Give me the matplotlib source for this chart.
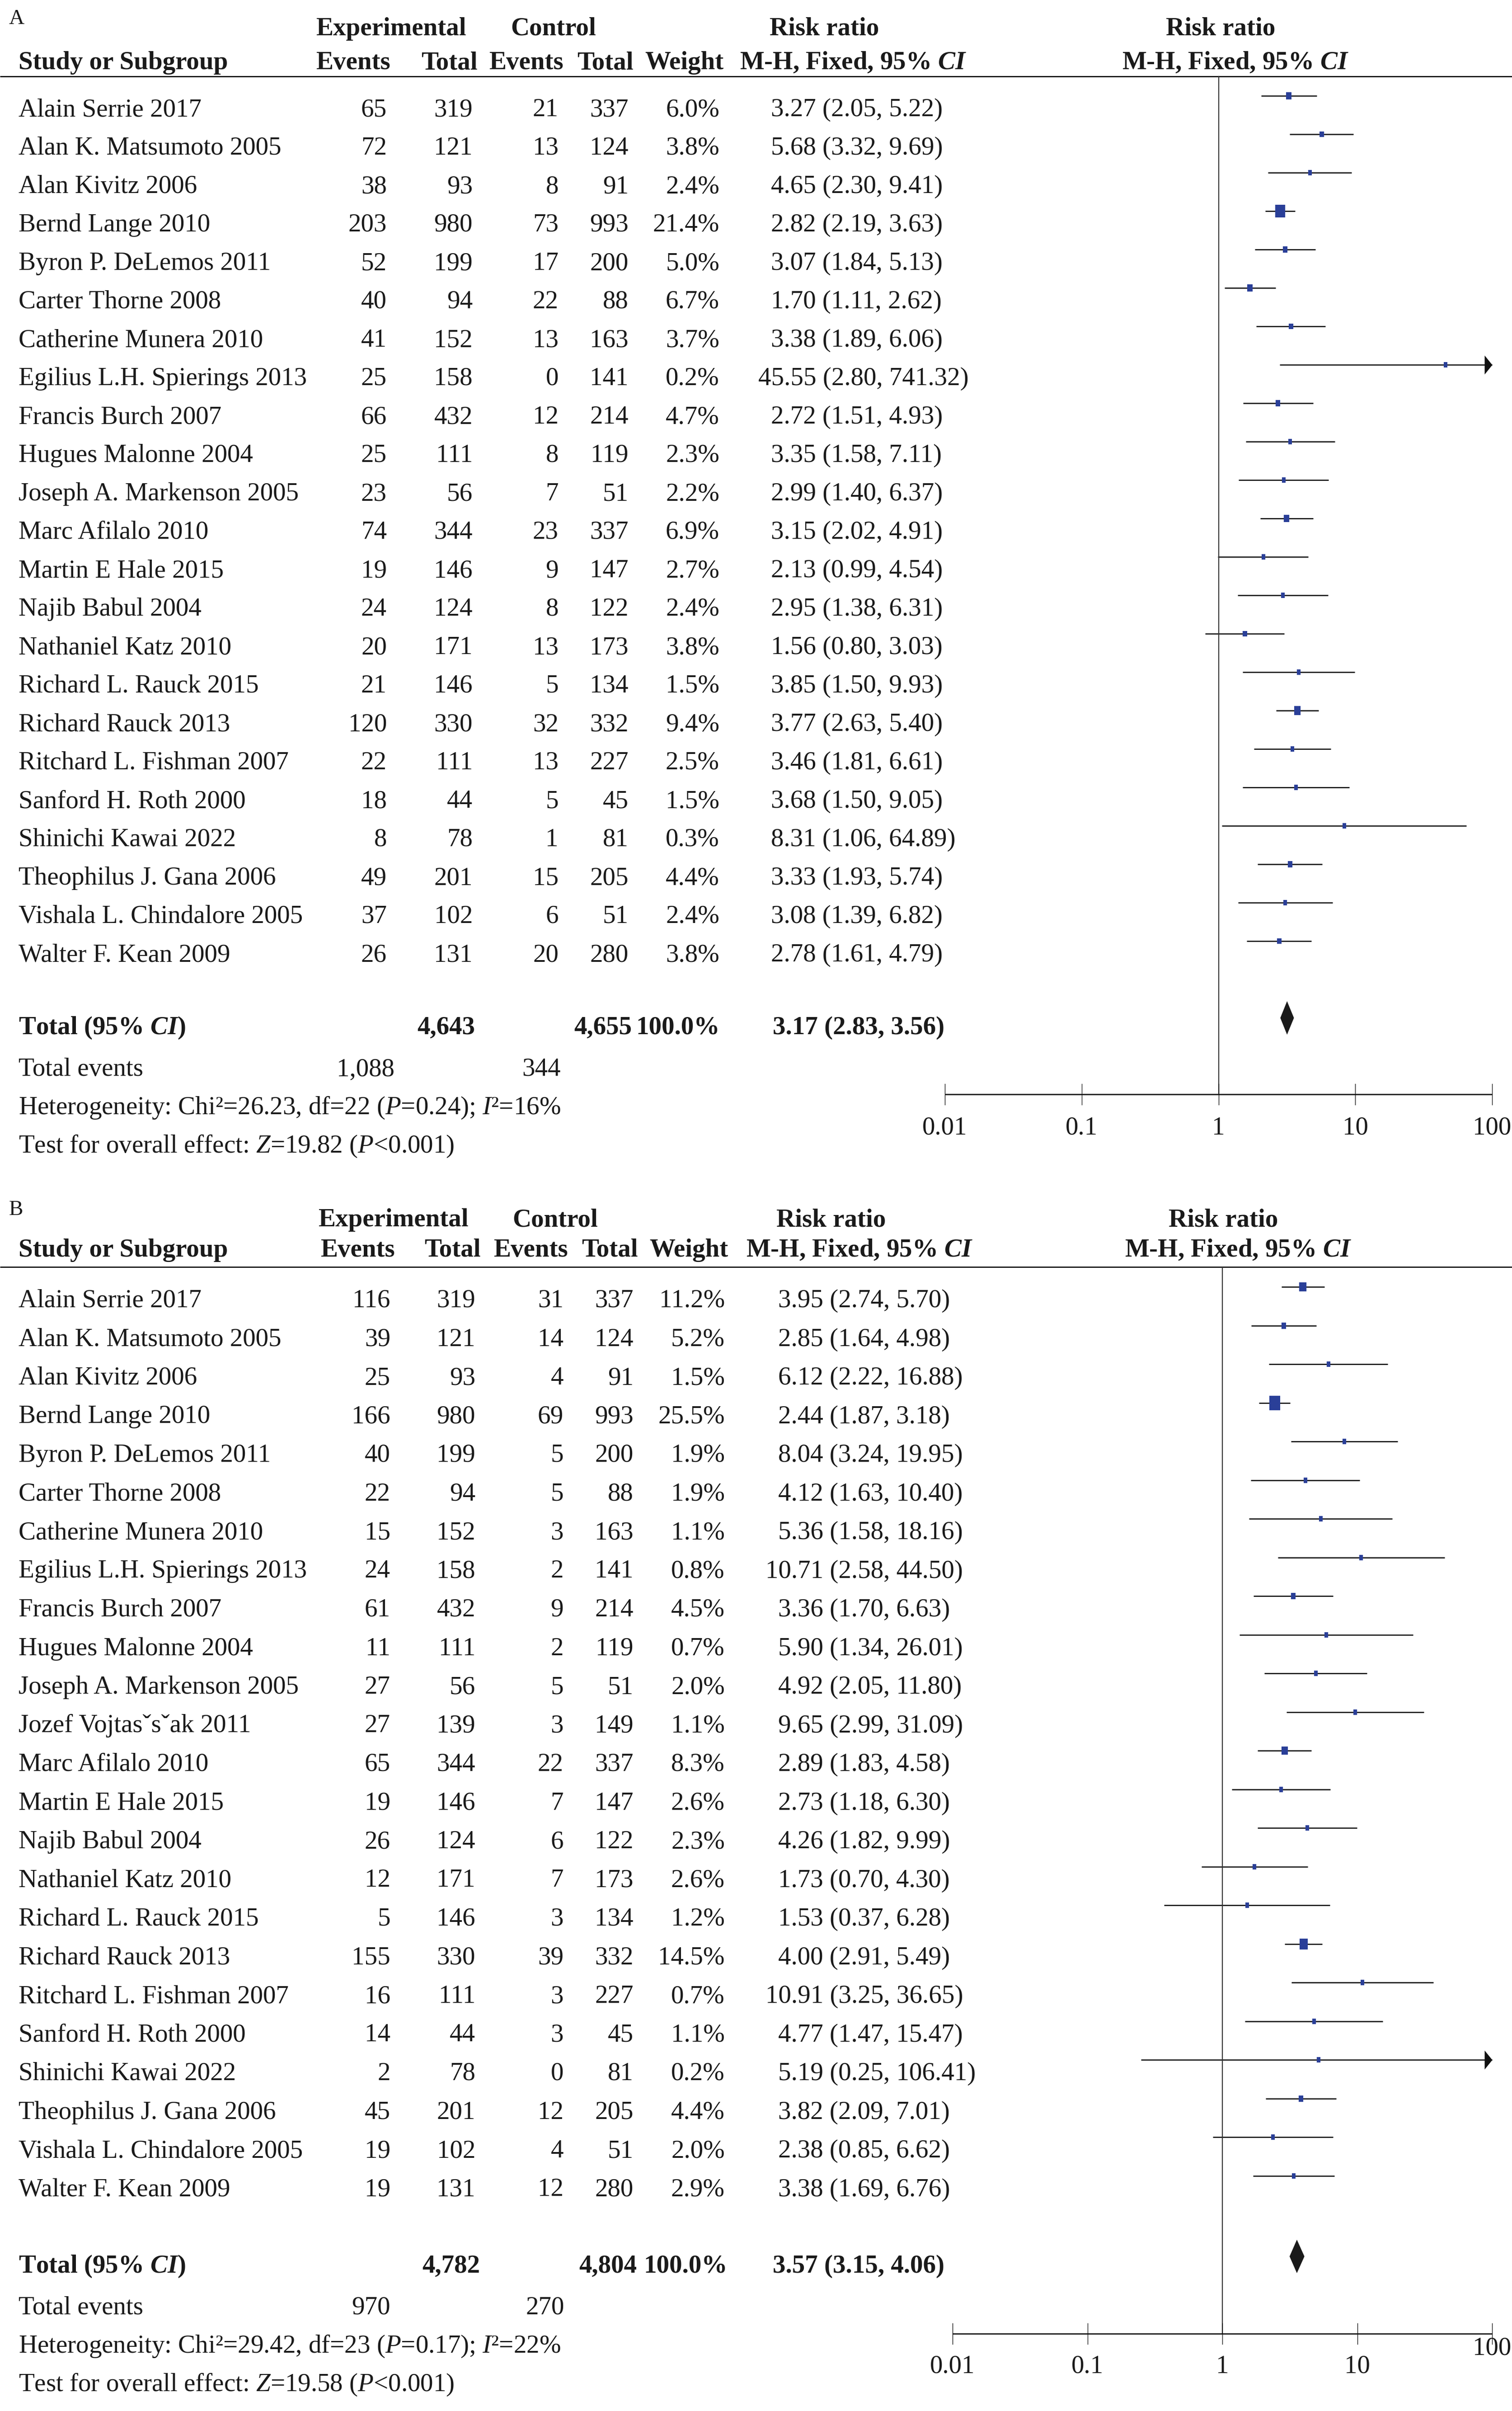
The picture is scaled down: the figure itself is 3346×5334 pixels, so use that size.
import numpy as np
import matplotlib.pyplot as plt
from matplotlib.path import Path

plt.rcParams['font.family'] = 'Liberation Serif'
plt.rcParams['mathtext.fontset'] = 'custom'
plt.rcParams['mathtext.rm'] = 'Liberation Serif'
plt.rcParams['mathtext.it'] = 'Liberation Serif:italic'
plt.rcParams['mathtext.bf'] = 'Liberation Serif:bold'
plt.rcParams['mathtext.bfit'] = 'Liberation Serif:italic:bold'

# ---- panel A data ----
names_a = ["Alain Serrie 2017", "Alan K. Matsumoto 2005", "Alan Kivitz 2006", "Bernd Lange 2010",
           "Byron P. DeLemos 2011", "Carter Thorne 2008", "Catherine Munera 2010",
           "Egilius L.H. Spierings 2013", "Francis Burch 2007", "Hugues Malonne 2004",
           "Joseph A. Markenson 2005", "Marc Afilalo 2010", "Martin E Hale 2015", "Najib Babul 2004",
           "Nathaniel Katz 2010", "Richard L. Rauck 2015", "Richard Rauck 2013",
           "Ritchard L. Fishman 2007", "Sanford H. Roth 2000", "Shinichi Kawai 2022",
           "Theophilus J. Gana 2006", "Vishala L. Chindalore 2005", "Walter F. Kean 2009"]
exp_ev_a = [65, 72, 38, 203, 52, 40, 41, 25, 66, 25, 23, 74, 19, 24, 20, 21, 120, 22, 18, 8, 49, 37, 26]
exp_tot_a = [319, 121, 93, 980, 199, 94, 152, 158, 432, 111, 56, 344, 146, 124, 171, 146, 330, 111, 44, 78, 201, 102, 131]
ctl_ev_a = [21, 13, 8, 73, 17, 22, 13, 0, 12, 8, 7, 23, 9, 8, 13, 5, 32, 13, 5, 1, 15, 6, 20]
ctl_tot_a = [337, 124, 91, 993, 200, 88, 163, 141, 214, 119, 51, 337, 147, 122, 173, 134, 332, 227, 45, 81, 205, 51, 280]
weight_a = [6.0, 3.8, 2.4, 21.4, 5.0, 6.7, 3.7, 0.2, 4.7, 2.3, 2.2, 6.9, 2.7, 2.4, 3.8, 1.5, 9.4, 2.5, 1.5, 0.3, 4.4, 2.4, 3.8]
rr_a = [3.27, 5.68, 4.65, 2.82, 3.07, 1.70, 3.38, 45.55, 2.72, 3.35, 2.99, 3.15, 2.13, 2.95, 1.56, 3.85, 3.77, 3.46, 3.68, 8.31, 3.33, 3.08, 2.78]
lo_a = [2.05, 3.32, 2.30, 2.19, 1.84, 1.11, 1.89, 2.80, 1.51, 1.58, 1.40, 2.02, 0.99, 1.38, 0.80, 1.50, 2.63, 1.81, 1.50, 1.06, 1.93, 1.39, 1.61]
hi_a = [5.22, 9.69, 9.41, 3.63, 5.13, 2.62, 6.06, 741.32, 4.93, 7.11, 6.37, 4.91, 4.54, 6.31, 3.03, 9.93, 5.40, 6.61, 9.05, 64.89, 5.74, 6.82, 4.79]
total_a = {"exp_tot": "4,643", "ctl_tot": "4,655", "rr": 3.17, "lo": 2.83, "hi": 3.56,
           "exp_ev": "1,088", "ctl_ev": "344"}
het_a = "Heterogeneity: Chi²=26.23, df=22 ($P$=0.24); $I$²=16%"
test_a = "Test for overall effect: $Z$=19.82 ($P$<0.001)"

# ---- panel B data ----
names_b = ["Alain Serrie 2017", "Alan K. Matsumoto 2005", "Alan Kivitz 2006", "Bernd Lange 2010",
           "Byron P. DeLemos 2011", "Carter Thorne 2008", "Catherine Munera 2010",
           "Egilius L.H. Spierings 2013", "Francis Burch 2007", "Hugues Malonne 2004",
           "Joseph A. Markenson 2005", "Jozef Vojtasˇsˇak 2011", "Marc Afilalo 2010", "Martin E Hale 2015",
           "Najib Babul 2004", "Nathaniel Katz 2010", "Richard L. Rauck 2015", "Richard Rauck 2013",
           "Ritchard L. Fishman 2007", "Sanford H. Roth 2000", "Shinichi Kawai 2022",
           "Theophilus J. Gana 2006", "Vishala L. Chindalore 2005", "Walter F. Kean 2009"]
exp_ev_b = [116, 39, 25, 166, 40, 22, 15, 24, 61, 11, 27, 27, 65, 19, 26, 12, 5, 155, 16, 14, 2, 45, 19, 19]
exp_tot_b = [319, 121, 93, 980, 199, 94, 152, 158, 432, 111, 56, 139, 344, 146, 124, 171, 146, 330, 111, 44, 78, 201, 102, 131]
ctl_ev_b = [31, 14, 4, 69, 5, 5, 3, 2, 9, 2, 5, 3, 22, 7, 6, 7, 3, 39, 3, 3, 0, 12, 4, 12]
ctl_tot_b = [337, 124, 91, 993, 200, 88, 163, 141, 214, 119, 51, 149, 337, 147, 122, 173, 134, 332, 227, 45, 81, 205, 51, 280]
weight_b = [11.2, 5.2, 1.5, 25.5, 1.9, 1.9, 1.1, 0.8, 4.5, 0.7, 2.0, 1.1, 8.3, 2.6, 2.3, 2.6, 1.2, 14.5, 0.7, 1.1, 0.2, 4.4, 2.0, 2.9]
rr_b = [3.95, 2.85, 6.12, 2.44, 8.04, 4.12, 5.36, 10.71, 3.36, 5.90, 4.92, 9.65, 2.89, 2.73, 4.26, 1.73, 1.53, 4.00, 10.91, 4.77, 5.19, 3.82, 2.38, 3.38]
lo_b = [2.74, 1.64, 2.22, 1.87, 3.24, 1.63, 1.58, 2.58, 1.70, 1.34, 2.05, 2.99, 1.83, 1.18, 1.82, 0.70, 0.37, 2.91, 3.25, 1.47, 0.25, 2.09, 0.85, 1.69]
hi_b = [5.70, 4.98, 16.88, 3.18, 19.95, 10.40, 18.16, 44.50, 6.63, 26.01, 11.80, 31.09, 4.58, 6.30, 9.99, 4.30, 6.28, 5.49, 36.65, 15.47, 106.41, 7.01, 6.62, 6.76]
total_b = {"exp_tot": "4,782", "ctl_tot": "4,804", "rr": 3.57, "lo": 3.15, "hi": 4.06,
           "exp_ev": "970", "ctl_ev": "270"}
het_b = "Heterogeneity: Chi²=29.42, df=23 ($P$=0.17); $I$²=22%"
test_b = "Test for overall effect: $Z$=19.58 ($P$<0.001)"

tick_vals = [0.01, 0.1, 1, 10, 100]
tick_labels = ["0.01", "0.1", "1", "10", "100"]

W, H = 3346, 5334
FS = 41
DIGIT = FS * 100 / 72 * 0.5   # width of one digit in px
BLUE = '#2a3f98'
DARK = '#111111'

fig = plt.figure(figsize=(W / 100, H / 100), dpi=100)
ax_t = fig.add_axes([0, 0, 1, 1])
ax_t.set_xlim(0, W)
ax_t.set_ylim(H, 0)
ax_t.axis('off')

tri = Path([(0, 0), (-17, 21), (-17, -21), (0, 0)],
           [Path.MOVETO, Path.LINETO, Path.LINETO, Path.CLOSEPOLY])


def rect_marker(w_px, h_px):
    a = w_px / h_px / 2
    return Path([(-a, -0.5), (a, -0.5), (a, 0.5), (-a, 0.5), (-a, -0.5)],
                [Path.MOVETO, Path.LINETO, Path.LINETO, Path.LINETO, Path.CLOSEPOLY])


def txt(x, y, s, ha='left', bold=False, size=FS):
    ax_t.text(x, y, s, ha=ha, va='baseline', fontsize=size,
              fontweight='bold' if bold else 'normal', color='#1a1a1a')


def rr_text(x_left, y, est, lo, hi, bold=False):
    # keep the first decimal point in line from row to row
    s = f"{est:.2f} ({lo:.2f}, {hi:.2f})"
    n_int = len(f"{est:.2f}".split('.')[0])
    txt(x_left - (n_int - 1) * DIGIT, y, s, bold=bold)


def panel(lay, names, e_ev, e_tot, c_ev, c_tot, wts, rr, lo, hi, tot, het, test):
    ax = fig.add_axes([lay['x0'] / W, 0, (lay['x1'] - lay['x0']) / W, 1])
    ax.set_xscale('log')
    ax.set_xlim(0.01, 100)
    ax.set_ylim(H, 0)
    ax.axis('off')

    # headers
    txt(20, lay['lab_y'], lay['label'], size=34)
    txt(lay['exp_c'], lay['h1'], "Experimental", ha='center', bold=True)
    txt(lay['ctl_c'], lay['h1'], "Control", ha='center', bold=True)
    txt(lay['rrh_c'][0], lay['h1'], "Risk ratio", ha='center', bold=True)
    txt(lay['plh_c'][0], lay['h1'], "Risk ratio", ha='center', bold=True)
    txt(41, lay['h2'], "Study or Subgroup", bold=True)
    for xr, s in zip(lay['head_r'], ["Events", "Total", "Events", "Total", "Weight"]):
        txt(xr, lay['h2'], s, ha='right', bold=True)
    txt(lay['rrh_c'][1], lay['h2'], r"M-H, Fixed, 95% $\mathbfit{CI}$", ha='center', bold=True)
    txt(lay['plh_c'][1], lay['h2'], r"M-H, Fixed, 95% $\mathbfit{CI}$", ha='center', bold=True)
    ax_t.plot([0, W], [lay['hline'], lay['hline']], color=DARK, lw=2.0, solid_capstyle='butt')

    # study rows
    for i, nm in enumerate(names):
        yb = lay['row0'] + i * lay['step']
        ym = yb - 45
        txt(41, yb, nm)
        cols = [str(e_ev[i]), str(e_tot[i]), str(c_ev[i]), str(c_tot[i]), f"{wts[i]:.1f}%"]
        for xr, s in zip(lay['col_r'], cols):
            txt(xr, yb, s, ha='right')
        rr_text(lay['rr_l'], yb, rr[i], lo[i], hi[i])

        x_lo = max(lo[i], 0.01)
        x_hi = min(hi[i], 100)
        ax.plot([x_lo, x_hi], [ym, ym], color=DARK, lw=1.9, solid_capstyle='butt', clip_on=False)
        if hi[i] > 100:
            ax.plot([100], [ym], marker=tri, ms=30.2, mew=0, color=DARK, clip_on=False)
        w_px = max(7.5, 4.8 * np.sqrt(wts[i]))
        h_px = max(11.5, 1.3 * w_px)
        ax.plot([rr[i]], [ym], marker=rect_marker(w_px, h_px), ms=h_px * 0.72, mew=0,
                color=BLUE, clip_on=False, zorder=3)

    # total row
    yt = lay['tot_y']
    txt(41, yt, r"Total (95% $\mathbfit{CI}$)", bold=True)
    txt(lay['tot_r'][0], yt, tot['exp_tot'], ha='right', bold=True)
    txt(lay['tot_r'][1], yt, tot['ctl_tot'], ha='right', bold=True)
    txt(lay['tot_r'][2], yt, "100.0%", ha='right', bold=True)
    rr_text(1710, yt, tot['rr'], tot['lo'], tot['hi'], bold=True)
    cy = lay['dia_y']
    ax.fill([tot['lo'], tot['rr'], tot['hi'], tot['rr']], [cy, cy - 37, cy, cy + 37],
            color='#1a1a1a', lw=0, clip_on=False)

    txt(41, lay['ev_y'], "Total events")
    txt(lay['ev_r'][0], lay['ev_y'], tot['exp_ev'], ha='right')
    txt(lay['ev_r'][1], lay['ev_y'], tot['ctl_ev'], ha='right')
    txt(41, lay['het_y'], het)
    txt(41, lay['test_y'], test)

    # null line and x axis
    ax.plot([1, 1], [lay['hline'], lay['axis_y']], color='#333333', lw=1.6, clip_on=False)
    ay = lay['axis_y']
    ax.plot([0.01, 100], [ay, ay], color=DARK, lw=2.0, solid_capstyle='butt', clip_on=False)
    for t, lab in zip(tick_vals, tick_labels):
        ax.plot([t, t], [ay - 23, ay + 23], color=DARK, lw=1.0, clip_on=False)
        ly = lay['tl100_y'] if t == 100 else lay['tl_y']
        ax.text(t, ly, lab, ha='center', va='baseline', fontsize=FS, color='#1a1a1a')


lay_a = dict(label="A", x0=2091, x1=3302, lab_y=53, h1=78, h2=153, hline=169,
             exp_c=865, ctl_c=1225, rrh_c=(1824, 1888), plh_c=(2701, 2734),
             head_r=[864, 1057, 1247, 1402, 1602], col_r=[856, 1046, 1236, 1391, 1592],
             rr_l=1706, row0=257, step=85, tot_y=2288, dia_y=2252,
             tot_r=[1051, 1398, 1593], ev_y=2380, ev_r=[873, 1241], het_y=2465, test_y=2550,
             axis_y=2421, tl_y=2510, tl100_y=2510)
lay_b = dict(label="B", x0=2108, x1=3302, lab_y=2688, h1=2713, h2=2780, hline=2803,
             exp_c=870, ctl_c=1229, rrh_c=(1839, 1902), plh_c=(2707, 2740),
             head_r=[874, 1064, 1257, 1412, 1612], col_r=[864, 1052, 1247, 1402, 1604],
             rr_l=1722, row0=2892, step=85.5, tot_y=5028, dia_y=4992,
             tot_r=[1062, 1409, 1610], ev_y=5120, ev_r=[864, 1249], het_y=5205, test_y=5290,
             axis_y=5163, tl_y=5250, tl100_y=5210)

panel(lay_a, names_a, exp_ev_a, exp_tot_a, ctl_ev_a, ctl_tot_a, weight_a, rr_a, lo_a, hi_a,
      total_a, het_a, test_a)
panel(lay_b, names_b, exp_ev_b, exp_tot_b, ctl_ev_b, ctl_tot_b, weight_b, rr_b, lo_b, hi_b,
      total_b, het_b, test_b)

fig.savefig("out.png", dpi=100, facecolor='white')
